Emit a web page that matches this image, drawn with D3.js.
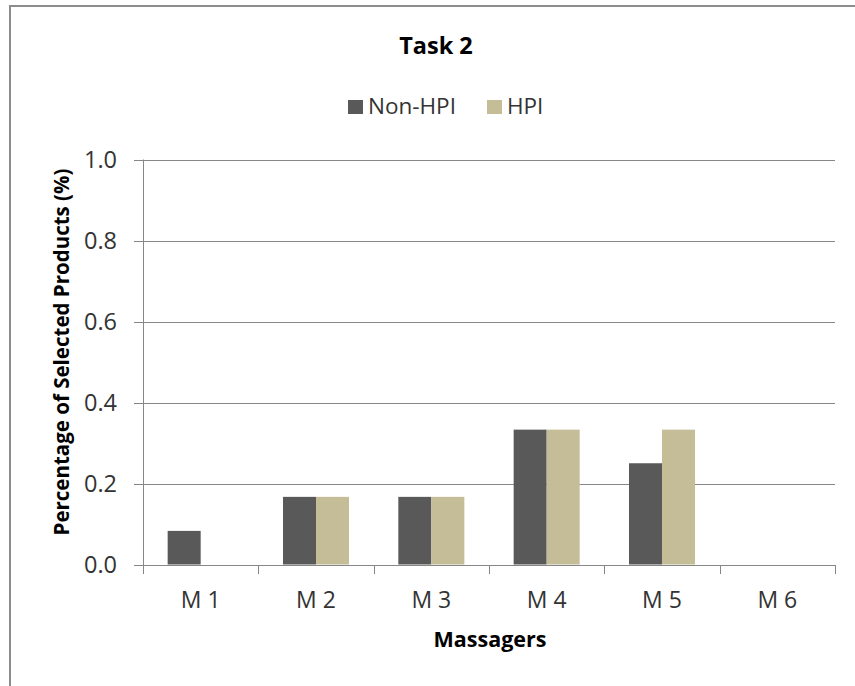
<!DOCTYPE html>
<html>
<head>
<meta charset="utf-8">
<script src="https://cdn.jsdelivr.net/npm/d3@7"></script>
<style>
  html, body { margin: 0; padding: 0; background: #fff; }
  svg { display: block; font-family: "Open Sans", Lato, sans-serif; }
</style>
</head>
<body>
<svg id="chart" width="855" height="686"></svg>
<script>
// Share of selected products per massager, Task 2
const categories = ["M 1", "M 2", "M 3", "M 4", "M 5", "M 6"];
const seriesNames = ["Non-HPI", "HPI"];
const nonHpiValues = [0.083, 0.167, 0.167, 0.333, 0.25, 0];
const hpiValues = [0, 0.167, 0.167, 0.333, 0.333, 0];
const yTickValues = [0, 0.2, 0.4, 0.6, 0.8, 1.0];
const seriesColors = ["#595959", "#C4BD97"];

const svg = d3.select("#chart");
const plot = { left: 143, right: 835, top: 159.5, bottom: 564.5 };
const gridColor = "#878787";
const textColor = "#333333";
const fontFamily = "'Open Sans', Lato, sans-serif";

// frame around the chart area
svg.append("path")
  .attr("d", "M10,700 L10,6 L870,6")
  .attr("fill", "none")
  .attr("stroke", "#8c8c8c")
  .attr("stroke-width", 2);

const x = d3.scaleBand().domain(categories).range([plot.left, plot.right]).paddingInner(0).paddingOuter(0);
const xInner = d3.scaleBand().domain(seriesNames).range([0, x.bandwidth()]).paddingInner(0).paddingOuter(0.747);
const y = d3.scaleLinear().domain([0, 1]).range([plot.bottom, plot.top]);

// horizontal gridlines (they also serve as the y tick marks)
svg.append("g")
  .selectAll("line")
  .data(yTickValues)
  .join("line")
  .attr("x1", plot.left - 9)
  .attr("x2", plot.right)
  .attr("y1", d => Math.round(y(d)) + 0.5)
  .attr("y2", d => Math.round(y(d)) + 0.5)
  .attr("stroke", gridColor)
  .attr("stroke-width", 1);

// y axis
const yAxis = d3.axisLeft(y)
  .tickValues(yTickValues)
  .tickFormat(d3.format(".1f"))
  .tickSize(0)
  .tickPadding(26);
const yAxisG = svg.append("g").attr("transform", `translate(${plot.left},0)`).call(yAxis);
yAxisG.select(".domain").remove();
yAxisG.selectAll("text")
  .attr("font-size", 23.5)
  .attr("font-family", fontFamily)
  .attr("fill", textColor)
  .attr("dy", "0.36em");

// vertical axis line
svg.append("line")
  .attr("x1", plot.left + 0.5).attr("x2", plot.left + 0.5)
  .attr("y1", plot.top).attr("y2", plot.bottom + 9)
  .attr("stroke", gridColor);

// bars
const rows = categories.map((c, i) => ({ cat: c, values: [nonHpiValues[i], hpiValues[i]] }));
const groups = svg.append("g")
  .selectAll("g")
  .data(rows)
  .join("g")
  .attr("transform", d => `translate(${x(d.cat)},0)`);
groups.selectAll("rect")
  .data(d => d.values.map((v, k) => ({ name: seriesNames[k], value: v, color: seriesColors[k] })))
  .join("rect")
  .attr("x", d => xInner(d.name))
  .attr("width", xInner.bandwidth())
  .attr("y", d => y(d.value))
  .attr("height", d => y(0) - y(d.value))
  .attr("fill", d => d.color);

// x axis: ticks between categories, labels centered in each band
const xBounds = categories.map(c => x(c)).concat([plot.right]);
svg.append("g")
  .selectAll("line")
  .data(xBounds)
  .join("line")
  .attr("x1", d => Math.round(d) + 0.5)
  .attr("x2", d => Math.round(d) + 0.5)
  .attr("y1", Math.round(y(0)))
  .attr("y2", Math.round(y(0)) + 9)
  .attr("stroke", gridColor);

const xAxis = d3.axisBottom(x).tickSize(0).tickPadding(0);
const xAxisG = svg.append("g").attr("transform", `translate(0,${plot.bottom})`).call(xAxis);
xAxisG.select(".domain").remove();
xAxisG.selectAll("text")
  .attr("font-size", 23)
  .attr("font-family", fontFamily)
  .attr("fill", textColor)
  .attr("dy", null)
  .attr("y", 43.5);

// titles
svg.append("text")
  .attr("x", 436).attr("y", 54)
  .attr("text-anchor", "middle")
  .attr("font-size", 23.5).attr("font-weight", "bold")
  .attr("fill", "#000")
  .text("Task 2");

svg.append("text")
  .attr("x", 490).attr("y", 647)
  .attr("text-anchor", "middle")
  .attr("font-size", 21.5).attr("font-weight", "bold")
  .attr("fill", "#000")
  .text("Massagers");

svg.append("text")
  .attr("transform", "translate(69,352) rotate(-90)")
  .attr("text-anchor", "middle")
  .attr("font-size", 20.5).attr("font-weight", "bold")
  .attr("fill", "#000")
  .text("Percentage of Selected Products (%)");

// legend
const legendItems = [
  { name: seriesNames[0], color: seriesColors[0], x: 348 },
  { name: seriesNames[1], color: seriesColors[1], x: 487 }
];
const legend = svg.append("g")
  .selectAll("g")
  .data(legendItems)
  .join("g")
  .attr("transform", d => `translate(${d.x},100)`);
legend.append("rect")
  .attr("width", 15).attr("height", 14)
  .attr("fill", d => d.color);
legend.append("text")
  .attr("x", 20).attr("y", 14)
  .attr("font-size", 22.5)
  .attr("fill", textColor)
  .text(d => d.name);
</script>
</body>
</html>
